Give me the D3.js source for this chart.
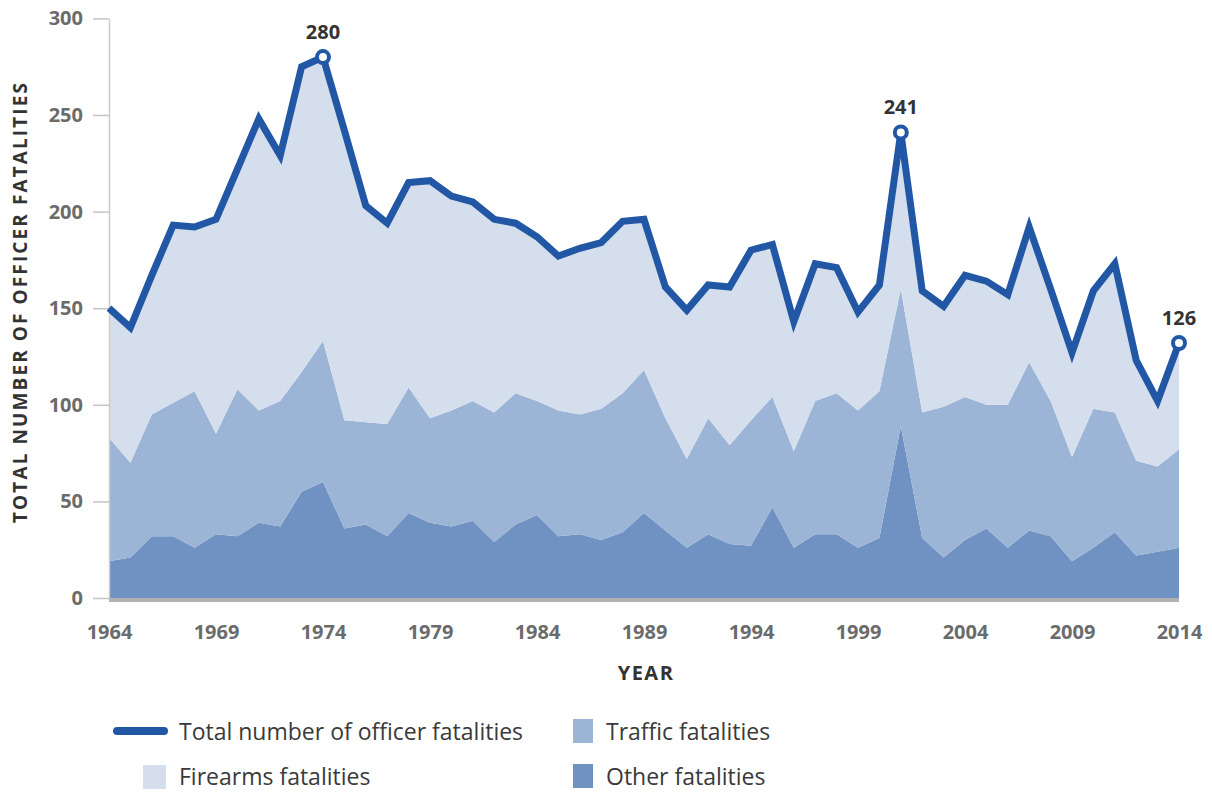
<!DOCTYPE html>
<html>
<head>
<meta charset="utf-8">
<script src="https://cdn.jsdelivr.net/npm/d3@7"></script>
<style>
  body { margin: 0; background: #fff; }
  svg { display: block; font-family: 'Open Sans', sans-serif; }
</style>
</head>
<body>
<svg id="chart" width="1212" height="793"></svg>
<script>
const years = d3.range(1964, 2015);

// values, one per year 1964..2014
const other = [19, 21, 32, 32, 26, 33, 32, 39, 37, 55, 60, 36, 38, 32, 44, 39, 37, 40, 29, 38,
  43, 32, 33, 30, 34, 44, 35, 26, 33, 28, 27, 47, 26, 33, 33, 26, 31, 89, 31, 21,
  30, 36, 26, 35, 32, 19, 26, 34, 22, 24, 26];
const traffic = [64, 49, 63, 69, 81, 52, 76, 58, 65, 62, 73, 56, 53, 58, 65, 54, 60, 62, 67, 68,
  59, 65, 62, 68, 72, 74, 58, 46, 60, 51, 65, 57, 50, 69, 73, 71, 76, 71, 65, 78,
  74, 64, 74, 87, 70, 54, 72, 62, 49, 44, 51];
const firearms = [67, 70, 72, 92, 85, 111, 114, 151, 127, 158, 147, 150, 112, 104, 106, 123, 111, 103, 100, 88,
  85, 80, 86, 86, 89, 78, 68, 77, 69, 82, 88, 79, 67, 71, 65, 51, 55, 81, 63, 52,
  63, 64, 57, 70, 58, 54, 61, 77, 52, 34, 55];

const xTicks = [1964, 1969, 1974, 1979, 1984, 1989, 1994, 1999, 2004, 2009, 2014];
const yTicks = [0, 50, 100, 150, 200, 250, 300];
const callouts = [
  { year: 1974, label: '280' },
  { year: 2001, label: '241' },
  { year: 2014, label: '126' }
];

const colors = { other: '#7092c3', traffic: '#9cb4d5', firearms: '#d4deec', total: '#2157a5' };

const svg = d3.select('#chart');
const x = d3.scaleLinear().domain([1964, 2014]).range([109, 1179]);
const y = d3.scaleLinear().domain([0, 300]).range([598, 18.4]);

const rows = years.map((yr, i) => ({ year: yr, other: other[i], traffic: traffic[i], firearms: firearms[i] }));
const stack = d3.stack().keys(['other', 'traffic', 'firearms']);
const layers = stack(rows);

const area = d3.area()
  .x(d => x(d.data.year))
  .y0(d => y(d[0]))
  .y1(d => y(d[1]));

svg.append('g')
  .selectAll('path')
  .data(layers)
  .join('path')
  .attr('d', area)
  .attr('fill', d => colors[d.key]);

// baseline bar
svg.append('rect')
  .attr('x', x(1964))
  .attr('y', y(0))
  .attr('width', x(2014) - x(1964))
  .attr('height', 4)
  .attr('fill', '#b2b2b2');

// y axis
const yAxis = svg.append('g')
  .attr('transform', `translate(${x(1964)},0)`)
  .call(d3.axisLeft(y).tickValues(yTicks).tickSize(16).tickSizeOuter(0).tickPadding(10))
  .attr('font-family', null)
  .attr('font-size', null);
yAxis.select('.domain').attr('stroke', '#cccccc').attr('stroke-width', 1.5);
yAxis.selectAll('.tick line').attr('stroke', '#c4c4c4').attr('stroke-width', 1.5);
yAxis.selectAll('.tick text')
  .attr('fill', '#6b6b6b')
  .style('font-size', '20px')
  .style('font-weight', 'bold');

// x axis
const xAxis = svg.append('g')
  .attr('transform', `translate(0,${y(0)})`)
  .call(d3.axisBottom(x).tickValues(xTicks).tickFormat(d3.format('d')).tickSize(0).tickPadding(27))
  .attr('font-family', null)
  .attr('font-size', null);
xAxis.select('.domain').remove();
xAxis.selectAll('.tick text')
  .attr('fill', '#6b6b6b')
  .style('font-size', '20px')
  .style('font-weight', 'bold');

// total line
const totalLine = d3.line()
  .x(d => x(d.data.year))
  .y(d => y(d[1]));

svg.append('path')
  .datum(layers[2])
  .attr('d', totalLine)
  .attr('fill', 'none')
  .attr('stroke', colors.total)
  .attr('stroke-width', 7)
  .attr('stroke-linejoin', 'miter');

// callouts
const topLayer = layers[2];
callouts.forEach(c => {
  const pt = topLayer.find(d => d.data.year === c.year);
  svg.append('circle')
    .attr('cx', x(c.year))
    .attr('cy', y(pt[1]))
    .attr('r', 6)
    .attr('fill', '#fff')
    .attr('stroke', colors.total)
    .attr('stroke-width', 4);
  svg.append('text')
    .attr('x', x(c.year))
    .attr('y', y(pt[1]) - 18)
    .attr('text-anchor', 'middle')
    .attr('fill', '#333')
    .style('font-size', '20px')
    .style('font-weight', 'bold')
    .text(c.label);
});

// axis titles
svg.append('text')
  .attr('transform', 'translate(27,302) rotate(-90)')
  .attr('text-anchor', 'middle')
  .attr('fill', '#333')
  .style('font-size', '19px')
  .style('font-weight', 'bold')
  .style('letter-spacing', '2.1px')
  .text('TOTAL NUMBER OF OFFICER FATALITIES');

svg.append('text')
  .attr('x', 646)
  .attr('y', 680)
  .attr('text-anchor', 'middle')
  .attr('fill', '#333')
  .style('font-size', '20px')
  .style('font-weight', 'bold')
  .style('letter-spacing', '1.5px')
  .text('YEAR');

// legend
const legend = svg.append('g').style('font-size', '23px').attr('fill', '#3a3a3a');
legend.append('line')
  .attr('x1', 117).attr('x2', 164)
  .attr('y1', 731).attr('y2', 731)
  .attr('stroke', colors.total)
  .attr('stroke-width', 8)
  .attr('stroke-linecap', 'round');
legend.append('text').attr('x', 179).attr('y', 740).text('Total number of officer fatalities');

legend.append('rect').attr('x', 143).attr('y', 765).attr('width', 23).attr('height', 24).attr('fill', colors.firearms);
legend.append('text').attr('x', 179).attr('y', 785).text('Firearms fatalities');

legend.append('rect').attr('x', 573).attr('y', 719).attr('width', 20).attr('height', 24).attr('fill', colors.traffic);
legend.append('text').attr('x', 606).attr('y', 740).text('Traffic fatalities');

legend.append('rect').attr('x', 573).attr('y', 764).attr('width', 20).attr('height', 24).attr('fill', colors.other);
legend.append('text').attr('x', 606).attr('y', 785).text('Other fatalities');
</script>
</body>
</html>
